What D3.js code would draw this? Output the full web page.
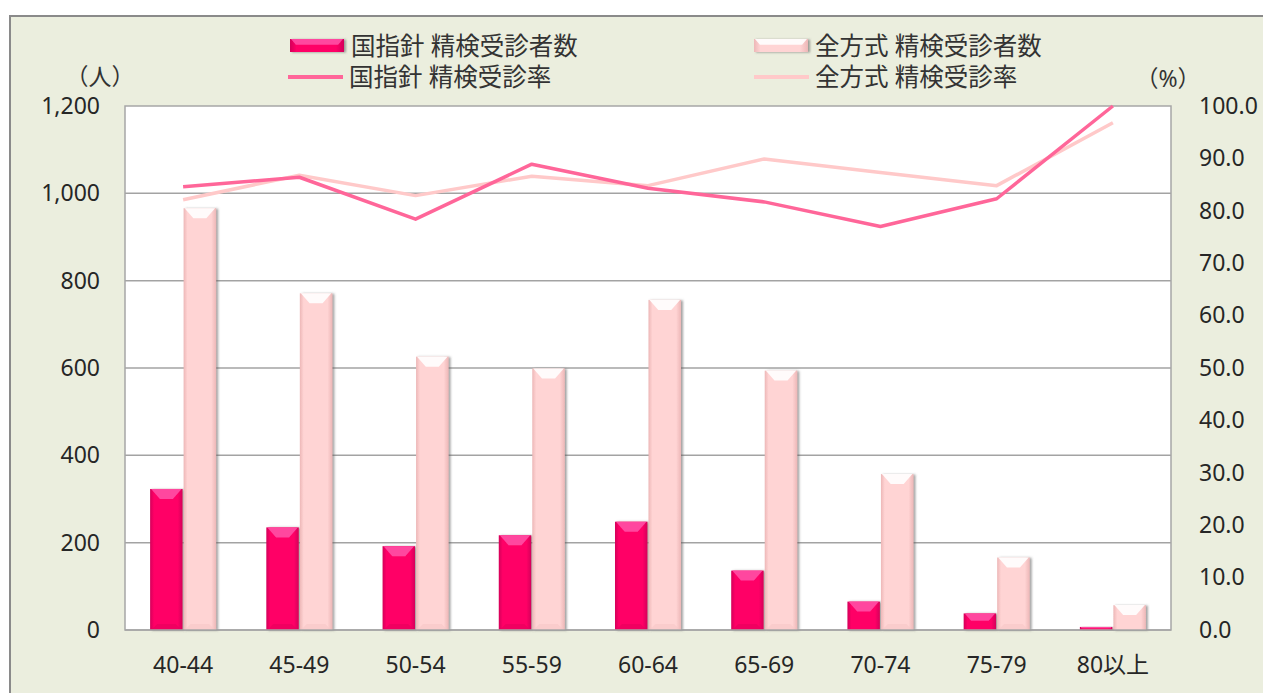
<!DOCTYPE html>
<html lang="ja">
<head>
<meta charset="utf-8">
<title>精検受診者数・精検受診率</title>
<script src="https://cdn.jsdelivr.net/npm/d3@7"></script>
<style>
  html, body { margin: 0; padding: 0; background: #fff; }
  svg { display: block; font-family: "Noto Sans", "Noto Sans CJK JP", sans-serif; }
  .axis text { font-size: 23px; fill: #262626; }
  .legend text { font-size: 24.5px; fill: #333; }
  .unit { font-size: 23px; fill: #333; }
</style>
</head>
<body>
<svg id="chart" width="1263" height="693"></svg>
<script>
// age groups
const categories = ['40-44', '45-49', '50-54', '55-59', '60-64', '65-69', '70-74', '75-79', '80以上'];
// 精検受診者数 (人)
const kuniCount = [323, 235, 192, 217, 248, 136, 65, 38, 7];
const zenCount = [966, 771, 626, 599, 756, 594, 357, 166, 57];
// 精検受診率 (%)
const kuniRate = [84.6, 86.4, 78.4, 88.9, 84.3, 81.7, 77.0, 82.3, 100.0];
const zenRate = [82.1, 86.8, 82.9, 86.6, 84.8, 89.9, 87.3, 84.8, 96.8];
// axis ticks
const leftTicks = [0, 200, 400, 600, 800, 1000, 1200];
const rightTicks = [0, 10, 20, 30, 40, 50, 60, 70, 80, 90, 100];
const seriesNames = ['国指針 精検受診者数', '全方式 精検受診者数', '国指針 精検受診率', '全方式 精検受診率'];

const plot = { left: 125, right: 1171, top: 106, bottom: 630 };

const barStyle = {
  kuni: { main: '#FF0066', edge: '#D4005A', top: '#FF4FA5' },
  zen: { main: '#FFD4D4', edge: '#EDB7B7', top: '#FFFFFF' }
};
const lineColor = { kuni: '#FF6699', zen: '#FFC9C9' };

const svg = d3.select('#chart');
const defs = svg.append('defs');

// soft shadow on the bars, like the Excel bevel look
const shadow = defs.append('filter').attr('id', 'shadow')
  .attr('x', '-30%').attr('y', '-10%').attr('width', '160%').attr('height', '130%');
shadow.append('feDropShadow')
  .attr('dx', 2).attr('dy', 0.5).attr('stdDeviation', 1.2)
  .attr('flood-color', '#555').attr('flood-opacity', 0.55);

Object.entries(barStyle).forEach(([key, s]) => {
  const g = defs.append('linearGradient').attr('id', 'grad-' + key)
    .attr('x1', 0).attr('x2', 1).attr('y1', 0).attr('y2', 0);
  g.append('stop').attr('offset', '0%').attr('stop-color', s.edge);
  g.append('stop').attr('offset', '12%').attr('stop-color', s.main);
  g.append('stop').attr('offset', '85%').attr('stop-color', s.main);
  g.append('stop').attr('offset', '100%').attr('stop-color', s.edge);
});

// outer frame
svg.append('rect')
  .attr('x', 10).attr('y', 16).attr('width', 1300).attr('height', 720)
  .attr('fill', '#EBEEDE').attr('stroke', '#8A8A8A').attr('stroke-width', 2);

// plot area
svg.append('rect')
  .attr('x', plot.left).attr('y', plot.top)
  .attr('width', plot.right - plot.left).attr('height', plot.bottom - plot.top)
  .attr('fill', '#fff');

// scales
const x0 = d3.scaleBand()
  .domain(categories)
  .range([plot.left, plot.right])
  .paddingInner(0.432)
  .paddingOuter(0.216);

const x1 = d3.scaleBand()
  .domain(['kuni', 'zen'])
  .range([0, x0.bandwidth()])
  .paddingInner(0.03);

const yLeft = d3.scaleLinear().domain([0, 1200]).range([plot.bottom, plot.top]);
const yRight = d3.scaleLinear().domain([0, 100]).range([plot.bottom, plot.top]);

// gridlines
svg.append('g')
  .selectAll('line')
  .data(leftTicks.filter(d => d > 0 && d < 1200))
  .join('line')
  .attr('x1', plot.left).attr('x2', plot.right)
  .attr('y1', d => yLeft(d)).attr('y2', d => yLeft(d))
  .attr('stroke', '#A3A3A3').attr('stroke-width', 1.5);

// plot border
svg.append('rect')
  .attr('x', plot.left).attr('y', plot.top)
  .attr('width', plot.right - plot.left).attr('height', plot.bottom - plot.top)
  .attr('fill', 'none').attr('stroke', '#A6A6A6').attr('stroke-width', 1.5);

// bevelled bar
function drawBar(g, key, x, y, w, h) {
  const s = barStyle[key];
  const bar = g.append('g').attr('filter', 'url(#shadow)');
  bar.append('rect')
    .attr('x', x).attr('y', y).attr('width', w).attr('height', h)
    .attr('fill', 'url(#grad-' + key + ')');
  const d = Math.min(10, h * 0.45);
  const inset = Math.min(w * 0.3, d);
  bar.append('polygon')
    .attr('points', [
      [x + 1, y], [x + w - 1, y], [x + w - inset, y + d], [x + inset, y + d]
    ].map(p => p.join(',')).join(' '))
    .attr('fill', s.top).attr('opacity', 0.9);
  if (h > 30) {
    bar.append('polygon')
      .attr('points', [
        [x + 1, y + h], [x + w - 1, y + h], [x + w - 7, y + h - 6], [x + 7, y + h - 6]
      ].map(p => p.join(',')).join(' '))
      .attr('fill', key === 'kuni' ? '#E6005C' : '#F7C6C6').attr('opacity', 0.6);
  }
}

const barLayer = svg.append('g');
categories.forEach((c, i) => {
  [['kuni', kuniCount[i]], ['zen', zenCount[i]]].forEach(([key, v]) => {
    const x = x0(c) + x1(key);
    const y = yLeft(v);
    drawBar(barLayer, key, x, y, x1.bandwidth(), yLeft(0) - y);
  });
});

// bottom axis line over bars
svg.append('line')
  .attr('x1', plot.left).attr('x2', plot.right)
  .attr('y1', plot.bottom).attr('y2', plot.bottom)
  .attr('stroke', '#A6A6A6').attr('stroke-width', 1.5);

// rate lines
const line = d3.line()
  .x((d, i) => x0(categories[i]) + x0.bandwidth() / 2)
  .y(d => yRight(d));

svg.append('path').datum(zenRate)
  .attr('d', line).attr('fill', 'none')
  .attr('stroke', lineColor.zen).attr('stroke-width', 3.5).attr('stroke-linejoin', 'round');
svg.append('path').datum(kuniRate)
  .attr('d', line).attr('fill', 'none')
  .attr('stroke', lineColor.kuni).attr('stroke-width', 3.5).attr('stroke-linejoin', 'round');

// axes
const leftAxis = svg.append('g').attr('class', 'axis')
  .attr('transform', `translate(${plot.left},0)`)
  .call(d3.axisLeft(yLeft).tickValues(leftTicks).tickFormat(d3.format(',')).tickSize(0).tickPadding(25));
leftAxis.select('.domain').remove();

const rightAxis = svg.append('g').attr('class', 'axis')
  .attr('transform', `translate(${plot.right},0)`)
  .call(d3.axisRight(yRight).tickValues(rightTicks).tickFormat(d3.format('.1f')).tickSize(0).tickPadding(28));
rightAxis.select('.domain').remove();

const bottomAxis = svg.append('g').attr('class', 'axis')
  .attr('transform', `translate(0,${plot.bottom})`)
  .call(d3.axisBottom(x0).tickSize(0).tickPadding(27));
bottomAxis.select('.domain').remove();

svg.selectAll('.axis text').attr('font-family', '"Noto Sans", "Noto Sans CJK JP", sans-serif');

// unit labels
svg.append('text').attr('class', 'unit')
  .attr('x', 100).attr('y', 85).attr('text-anchor', 'middle').text('（人）');
svg.append('text').attr('class', 'unit')
  .attr('x', 1168).attr('y', 87).attr('text-anchor', 'middle').text('（%）');

// legend
const legend = svg.append('g').attr('class', 'legend');
const legendItems = [
  { name: seriesNames[0], type: 'bar', key: 'kuni', x: 290, y: 46 },
  { name: seriesNames[1], type: 'bar', key: 'zen', x: 754, y: 46 },
  { name: seriesNames[2], type: 'line', key: 'kuni', x: 288, y: 77 },
  { name: seriesNames[3], type: 'line', key: 'zen', x: 754, y: 77 }
];
legendItems.forEach(item => {
  if (item.type === 'bar') {
    drawBar(legend, item.key, item.x, item.y - 7, 54, 13);
  } else {
    legend.append('line')
      .attr('x1', item.x).attr('x2', item.x + 55)
      .attr('y1', item.y).attr('y2', item.y)
      .attr('stroke', lineColor[item.key]).attr('stroke-width', 4);
  }
  legend.append('text')
    .attr('x', item.x + 61).attr('y', item.y + 8.5)
    .text(item.name);
});
</script>
</body>
</html>
